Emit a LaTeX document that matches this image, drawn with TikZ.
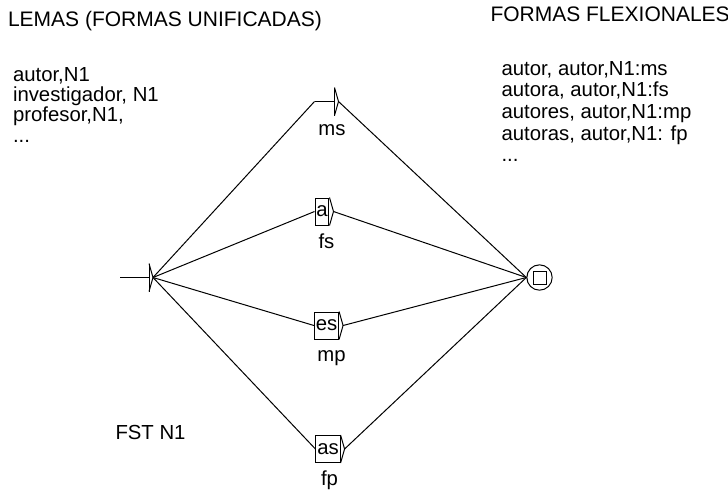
\documentclass[tikz,border=0pt]{standalone}
\usepackage{fontspec}
\setmainfont{Liberation Sans}
\usetikzlibrary{calc}

\tikzset{every picture/.style={line width=0.75pt}}
\tikzset{
  tbox/.style={draw, rectangle, inner xsep=1pt, inner ysep=0pt, minimum height=20.25pt, font=\fontsize{15.25}{18}\selectfont},
  ebox/.style={rectangle, inner sep=0pt, minimum width=14.25pt, minimum height=20.25pt},
  lbl/.style={inner sep=0pt, font=\fontsize{15.25}{18}\selectfont},
  ttl/.style={inner sep=0pt, font=\fontsize{15.75}{18}\selectfont},
}
% right end of a box: the curved tip
\newcommand{\boxtip}[1]{%
  \draw (#1.north east) .. controls ($(#1.north east)!0.5!(#1.east)+(2,0)$) and ($(#1.east)+(4,0)$) .. ($(#1.east)+(4,0)$)
    .. controls ($(#1.east)+(4,0)$) and ($(#1.south east)!0.5!(#1.east)+(2,0)$) .. (#1.south east);
  \coordinate (#1-out) at ($(#1.east)+(4,0)$);}

\begin{document}
\begin{tikzpicture}[x=0.75pt,y=0.75pt,yscale=-1,xscale=1]
\useasboundingbox (0,0) rectangle (728,493);

%States and boxes
\node[ebox, minimum width=0pt] (ini) at (148.5,277.5) {};
\node[ebox] (ms) at (324.5,101.5) {};
\node[tbox] (a) at (322,211.5) {a};
\node[tbox] (es) at (326.5,325.5) {es};
\node[tbox] (as) at (328,449) {as};
\node[circle, draw, minimum size=19pt, inner sep=0pt] (fin) at (539.5,277.5) {};
\node[draw, rectangle, minimum size=9.75pt, inner sep=0pt] (finsq) at (fin.center) {};
\coordinate (ini-in) at (120,277.5);

%Initial state
\draw (ini-in) -- (ini.east);
\draw (ini.north east) -- (ini.south east);
\boxtip{ini}
%Empty box
\draw (ms.west) -- (ms.east);
\draw (ms.north east) -- (ms.south east);
\boxtip{ms}
\boxtip{a}
\boxtip{es}
\boxtip{as}

%Transitions
\draw (ini-out) -- (ms.west);
\draw (ini-out) -- (a.west);
\draw (ini-out) -- (es.west);
\draw (ini-out) -- (as.west);
\draw (ms-out) -- (fin.west);
\draw (a-out) -- (fin.west);
\draw (es-out) -- (fin.west);
\draw (as-out) -- (fin.west);

% Text Node
\draw (332,135) node [anchor=base][lbl] (ms-lbl) {ms};
% Text Node
\draw (326.5,248) node [anchor=base][lbl] (fs-lbl) {fs};
% Text Node
\draw (331.5,361.5) node [anchor=base][lbl] (mp-lbl) {mp};
% Text Node
\draw (329.5,485) node [anchor=base][lbl] (fp-lbl) {fp};

% Text Node
\draw (7.5,26.7) node [anchor=base west][ttl] (lemas) {LEMAS (FORMAS UNIFICADAS)};
% Text Node
\draw (490,21.7) node [anchor=base west][ttl] (flex) {FORMAS FLEXIONALES};
% Text Node
\draw (12.5,81) node [anchor=base west][lbl] (lem1) {autor,N1};
% Text Node
\draw (12.5,101.3) node [anchor=base west][lbl] (lem2) {investigador, N1};
% Text Node
\draw (12.5,121.7) node [anchor=base west][lbl] (lem3) {profesor,N1,};
% Text Node
\draw (12.5,142) node [anchor=base west][lbl] (lem4) {...};
% Text Node
\draw (501,75) node [anchor=base west][lbl] (flex1) {autor, autor,N1:ms};
% Text Node
\draw (501,96.7) node [anchor=base west][lbl] (flex2) {autora, autor,N1:fs};
% Text Node
\draw (501,118.4) node [anchor=base west][lbl] (flex3) {autores, autor,N1:mp};
% Text Node
\draw (501,140) node [anchor=base west][lbl] (flex4) {autoras, autor,N1: fp};
% Text Node
\draw (501,161.7) node [anchor=base west][lbl] (flex5) {...};
% Text Node
\draw (115,439) node [anchor=base west][lbl] (fst) {FST N1};

\end{tikzpicture}
\end{document}
